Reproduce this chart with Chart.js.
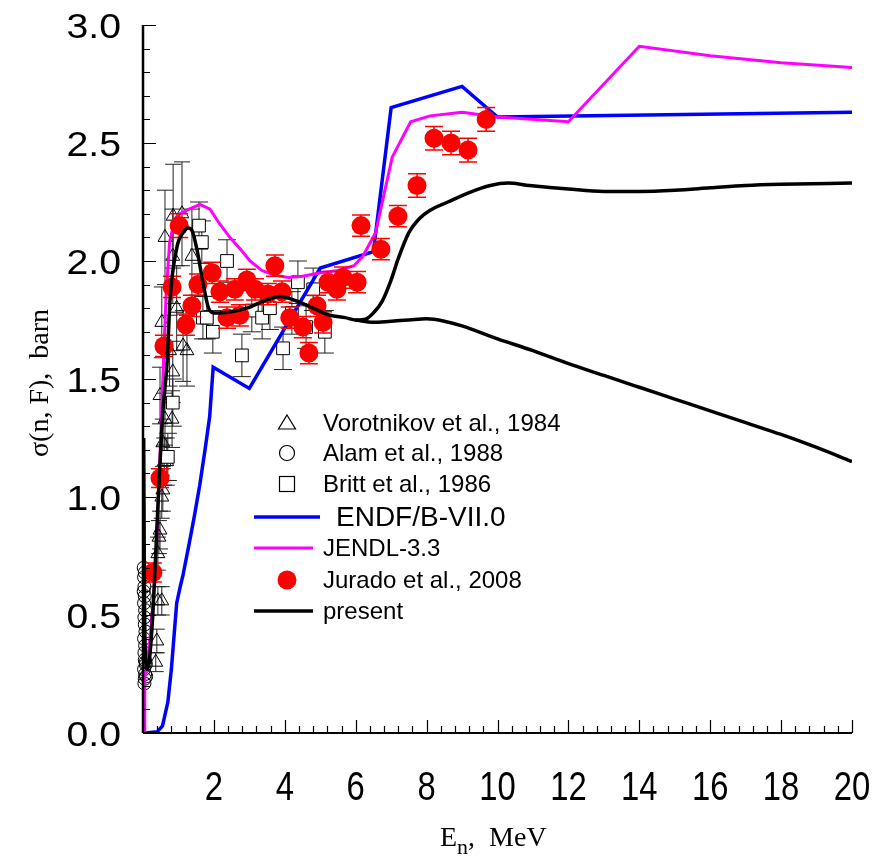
<!DOCTYPE html>
<html><head><meta charset="utf-8">
<script src="https://cdn.jsdelivr.net/npm/chart.js@4.4.0/dist/chart.umd.min.js"></script>
<style>html,body{margin:0;padding:0;background:#fff;}#wrap{width:890px;height:862px;}</style>
</head><body><div id="wrap"><canvas id="c" width="890" height="862"></canvas></div>
<script>
// ---- tick labels ----
const xTickValues = [2,4,6,8,10,12,14,16,18,20];
const xTickLabels = ['2','4','6','8','10','12','14','16','18','20'];
const yTickValues = [0,0.5,1,1.5,2,2.5,3];
const yTickLabels = ['0.0','0.5','1.0','1.5','2.0','2.5','3.0'];

// ---- ENDF/B-VII.0 ----
const endfE = [0.06,0.40,0.55,0.70,0.80,0.88,0.95,1.05,1.13,1.30,1.45,1.60,1.75,1.88,1.98,3.00,5.00,6.50,7.00,9.00,10.0,20.0];
const endfS = [0.00,0.005,0.03,0.13,0.27,0.42,0.55,0.62,0.67,0.80,0.92,1.05,1.20,1.34,1.55,1.46,1.97,2.04,2.65,2.74,2.61,2.63];

// ---- JENDL-3.3 ----
const jendlE = [0.05,0.05,0.10,0.20,0.34,0.45,0.56,0.65,0.75,0.90,1.04,1.30,1.61,1.89,2.15,2.45,2.75,3.02,3.35,3.70,4.10,4.50,5.00,5.50,5.95,6.20,6.56,7.03,7.55,8.10,9.00,10.0,12.0,14.0,16.0,18.0,20.0];
const jendlS = [0.00,0.24,0.27,0.40,0.65,1.05,1.50,1.85,2.08,2.18,2.20,2.22,2.24,2.22,2.16,2.10,2.05,2.00,1.96,1.94,1.93,1.935,1.95,1.96,1.98,2.02,2.12,2.44,2.59,2.615,2.63,2.61,2.59,2.91,2.87,2.84,2.82];

// ---- present (total) ----
const presentE = [0.02,0.04,0.07,0.12,0.18,0.28,0.42,0.56,0.68,0.76,0.96,1.13,1.27,1.38,1.52,1.69,1.85,2.00,2.20,2.93,3.40,3.86,4.34,4.80,5.27,5.70,6.00,6.30,6.50,6.75,7.00,7.20,7.50,7.80,8.10,8.60,9.20,9.80,10.3,10.9,12.0,13.0,14.0,15.0,16.0,17.0,18.0,20.0];
const presentS = [1.25,0.60,0.32,0.27,0.31,0.51,0.96,1.36,1.57,1.83,2.06,2.12,2.14,2.13,2.05,1.91,1.80,1.78,1.78,1.80,1.83,1.85,1.83,1.80,1.77,1.76,1.75,1.755,1.78,1.83,1.92,2.01,2.12,2.18,2.215,2.25,2.29,2.32,2.33,2.32,2.305,2.295,2.295,2.30,2.31,2.32,2.325,2.33];
// ---- present (lower branch) ----
const presentLowE = [6.00,6.50,7.00,7.50,8.00,8.50,9.00,10.0,11.0,12.0,13.0,14.0,15.0,16.0,17.0,18.0,19.0,20.0];
const presentLowS = [1.75,1.74,1.745,1.75,1.755,1.745,1.725,1.67,1.62,1.565,1.515,1.465,1.415,1.365,1.315,1.265,1.21,1.15];

// ---- Jurado et al., 2008 ----
const juradoE = [0.28,0.48,0.59,0.82,1.02,1.21,1.38,1.55,1.95,2.17,2.37,2.59,2.73,2.93,3.16,3.52,3.72,3.92,4.14,4.51,4.68,4.91,5.08,5.22,5.47,5.64,6.04,6.15,6.71,7.19,7.73,8.21,8.69,9.17,9.68];
const juradoS = [0.68,1.08,1.64,1.89,2.15,1.73,1.81,1.90,1.95,1.87,1.76,1.88,1.77,1.92,1.88,1.86,1.98,1.87,1.76,1.72,1.61,1.81,1.74,1.91,1.88,1.93,1.91,2.15,2.05,2.19,2.32,2.52,2.50,2.47,2.60];
const juradoErr = [0.04,0.04,0.045,0.045,0.05,0.045,0.045,0.045,0.045,0.045,0.045,0.045,0.045,0.045,0.045,0.045,0.045,0.045,0.045,0.045,0.045,0.045,0.045,0.045,0.045,0.045,0.045,0.045,0.045,0.045,0.05,0.05,0.05,0.05,0.05];

// ---- Vorotnikov et al., 1984 ----
const vorE = [0.36,0.39,0.42,0.42,0.45,0.48,0.53,0.53,0.56,0.56,0.60,0.62,0.48,0.67,0.84,0.53,0.82,0.75,0.95,0.84,0.85,0.62,1.10,1.13,1.24,1.38];
const vorS = [0.30,0.39,0.56,0.76,0.83,0.86,0.56,1.00,1.03,1.23,1.15,1.33,1.43,1.15,1.53,1.74,1.33,1.62,1.80,2.02,2.19,2.10,2.20,1.64,1.62,2.02];
const vorErr = [0.04,0.05,0.06,0.07,0.07,0.08,0.06,0.09,0.09,0.10,0.10,0.11,0.12,0.10,0.13,0.15,0.12,0.15,0.18,0.20,0.22,0.20,0.22,0.15,0.15,0.20];

// ---- Alam et al., 1988 ----
const alamE = [0.02,0.03,0.04,0.05,0.03,0.06,0.04,0.05,0.07,0.03,0.06,0.04,0.05,0.08,0.03,0.06,0.05,0.04,0.07,0.09,0.02,0.05];
const alamS = [0.70,0.66,0.62,0.58,0.55,0.52,0.49,0.46,0.43,0.40,0.37,0.34,0.31,0.29,0.27,0.25,0.23,0.21,0.30,0.24,0.60,0.68];

// ---- Britt et al., 1986 ----
const brittE = [0.70,0.84,1.58,1.66,1.69,1.80,1.97,2.37,2.79,3.07,3.36,3.58,3.95,4.20,4.37,4.60,4.80,5.13];
const brittS = [1.17,1.40,2.15,2.08,1.76,1.76,1.70,2.00,1.60,1.79,1.76,1.80,1.63,1.78,1.91,1.72,1.88,1.70];
const brittErr = [0.10,0.10,0.10,0.09,0.09,0.09,0.09,0.09,0.09,0.09,0.09,0.09,0.09,0.09,0.09,0.09,0.09,0.09];

function pts(xs, ys){ return xs.map((x,i)=>({x:x, y:ys[i]})); }

const decor = {
  id: 'decor',
  beforeDatasetDraw(chart, args){
    const ds = chart.data.datasets[args.index];
    if (!ds.errs) return;
    const ctx = chart.ctx, xs = chart.scales.x, ys = chart.scales.y;
    ctx.save();
    ctx.strokeStyle = ds.errColor; ctx.lineWidth = ds.errWidth;
    ds.data.forEach((p,i)=>{
      const e = ds.errs[i]; if (!e) return;
      const px = xs.getPixelForValue(p.x);
      const y1 = ys.getPixelForValue(p.y+e), y2 = ys.getPixelForValue(p.y-e);
      ctx.beginPath();
      ctx.moveTo(px,y1); ctx.lineTo(px,y2);
      ctx.moveTo(px-ds.capHalf,y1); ctx.lineTo(px+ds.capHalf,y1);
      ctx.moveTo(px-ds.capHalf,y2); ctx.lineTo(px+ds.capHalf,y2);
      ctx.stroke();
    });
    ctx.restore();
  },
  afterDraw(chart){
    const ctx = chart.ctx, xs = chart.scales.x, ys = chart.scales.y, a = chart.chartArea;
    ctx.save();
    // axis lines
    ctx.strokeStyle = '#000'; ctx.lineWidth = 2.5;
    ctx.beginPath(); ctx.moveTo(a.left, a.top); ctx.lineTo(a.left, a.bottom); ctx.stroke();
    ctx.lineWidth = 2;
    ctx.beginPath(); ctx.moveTo(a.left, a.bottom); ctx.lineTo(a.right, a.bottom); ctx.stroke();
    // ticks
    ctx.lineWidth = 1.2;
    ctx.beginPath();
    for (let k=1; k<=30; k++){
      const v = k/10, py = Math.round(ys.getPixelForValue(v))+0.5;
      const len = (k%5===0) ? 13 : 7;
      ctx.moveTo(a.left, py); ctx.lineTo(a.left+len, py);
    }
    for (let k=1; k<=50; k++){
      const v = k*0.4, px = Math.round(xs.getPixelForValue(v))+0.5;
      const len = (k%5===0) ? 13 : 7;
      ctx.moveTo(px, a.bottom); ctx.lineTo(px, a.bottom-len);
    }
    ctx.stroke();
    // tick labels
    ctx.fillStyle = '#000';
    ctx.font = "40px 'Liberation Sans', Arial, sans-serif";
    ctx.textAlign = 'center'; ctx.textBaseline = 'alphabetic';
    xTickValues.forEach((v,i)=>{
      const px = xs.getPixelForValue(v);
      ctx.save(); ctx.translate(px, 800); ctx.scale(0.82,1);
      ctx.fillText(xTickLabels[i], 0, 0); ctx.restore();
    });
    ctx.font = "35px 'Liberation Sans', Arial, sans-serif";
    ctx.textAlign = 'right';
    yTickValues.forEach((v,i)=>{
      const py = ys.getPixelForValue(v);
      ctx.save(); ctx.translate(121, py+12.5); ctx.scale(1.12,1);
      ctx.fillText(yTickLabels[i], 0, 0); ctx.restore();
    });
    // axis titles
    ctx.font = "28px 'Liberation Serif', 'Times New Roman', serif";
    ctx.textAlign = 'left';
    ctx.fillText('E', 440, 846);
    const wE = ctx.measureText('E').width;
    ctx.font = "22px 'Liberation Serif', 'Times New Roman', serif";
    ctx.fillText('n', 440+wE, 854);
    const wn = ctx.measureText('n').width;
    ctx.font = "28px 'Liberation Serif', 'Times New Roman', serif";
    ctx.fillText(',  MeV', 440+wE+wn, 846);
    ctx.save(); ctx.translate(48, 383); ctx.rotate(-Math.PI/2);
    ctx.textAlign = 'center'; ctx.textBaseline = 'alphabetic';
    ctx.font = "28px 'Liberation Serif', 'Times New Roman', serif";
    ctx.fillText('\u03c3(n, F),  barn', 0, 0);
    ctx.restore();
    // legend
    const dsets = chart.data.datasets;
    const entries = [
      {i:2, kind:'tri', y:423},
      {i:0, kind:'circ', y:453},
      {i:3, kind:'sq', y:484},
      {i:4, kind:'line', y:517, x2:320, font:28, tx:336},
      {i:5, kind:'line', y:548, x2:313},
      {i:6, kind:'dot', y:580},
      {i:7, kind:'line', y:611, x2:313}
    ];
    const sx = 287;
    entries.forEach(en=>{
      const ds = dsets[en.i];
      ctx.save();
      if (en.kind==='tri'){
        ctx.strokeStyle='#000'; ctx.lineWidth=1.2; ctx.beginPath();
        ctx.moveTo(sx, en.y-8); ctx.lineTo(sx+8.5, en.y+6); ctx.lineTo(sx-8.5, en.y+6); ctx.closePath(); ctx.stroke();
      } else if (en.kind==='circ'){
        ctx.strokeStyle='#000'; ctx.lineWidth=1.2; ctx.beginPath(); ctx.arc(sx, en.y, 7.5, 0, Math.PI*2); ctx.stroke();
      } else if (en.kind==='sq'){
        ctx.strokeStyle='#000'; ctx.lineWidth=1.2; ctx.strokeRect(sx-7.5, en.y-7.5, 15, 15);
      } else if (en.kind==='dot'){
        ctx.fillStyle=ds.backgroundColor; ctx.beginPath(); ctx.arc(sx, en.y, 9.5, 0, Math.PI*2); ctx.fill();
      } else {
        ctx.strokeStyle=ds.borderColor; ctx.lineWidth=ds.borderWidth; ctx.beginPath();
        ctx.moveTo(254, en.y); ctx.lineTo(en.x2, en.y); ctx.stroke();
      }
      ctx.restore();
      ctx.fillStyle='#000';
      ctx.font = (en.font||24) + "px 'Liberation Sans', Arial, sans-serif";
      ctx.textAlign='left'; ctx.textBaseline='middle';
      ctx.fillText(ds.label, en.tx||323, en.y+1);
    });
    ctx.restore();
  }
};

const zeroFit = (s)=>{ if (s.isHorizontal()) s.height = 0; else s.width = 0; };

new Chart(document.getElementById('c'), {
  type: 'scatter',
  data: { datasets: [
    { label:'Alam et al., 1988', data: pts(alamE, alamS), pointStyle:'circle', pointRadius:6.5,
      backgroundColor:'rgba(0,0,0,0)', borderColor:'#000', borderWidth:1, order:7, clip:false },
    { label:'_low', data: pts(presentLowE, presentLowS), showLine:true, pointRadius:0, borderColor:'#000',
      borderWidth:3.5, cubicInterpolationMode:'monotone', order:0 },
    { label:'Vorotnikov et al., 1984', data: pts(vorE, vorS), pointStyle:'triangle', pointRadius:8,
      backgroundColor:'rgba(0,0,0,0)', borderColor:'#000', borderWidth:1, order:6, clip:false,
      errs: vorErr, errColor:'#222', errWidth:1, capHalf:8 },
    { label:'Britt et al., 1986', data: pts(brittE, brittS), pointStyle:'rect', pointRadius:9,
      backgroundColor:'#fff', borderColor:'#000', borderWidth:1, order:5, clip:false,
      errs: brittErr, errColor:'#222', errWidth:1, capHalf:9 },
    { label:'ENDF/B-VII.0', data: pts(endfE, endfS), showLine:true, pointRadius:0, borderColor:'#0000ff',
      borderWidth:3.5, tension:0, order:4 },
    { label:'JENDL-3.3', data: pts(jendlE, jendlS), showLine:true, pointRadius:0, borderColor:'#ff00ff',
      borderWidth:3, tension:0, order:3 },
    { label:'Jurado et al., 2008', data: pts(juradoE, juradoS), pointStyle:'circle', pointRadius:9.5,
      backgroundColor:'#ff0000', borderColor:'#ff0000', borderWidth:0, order:2, clip:false,
      errs: juradoErr, errColor:'#ff0000', errWidth:1.5, capHalf:9 },
    { label:'present', data: pts(presentE, presentS), showLine:true, pointRadius:0, borderColor:'#000',
      borderWidth:3.5, cubicInterpolationMode:'monotone', order:0 }
  ]},
  options: {
    responsive:false, animation:false, devicePixelRatio:1,
    layout:{ padding:{ left:143, right:38, top:25, bottom:129 } },
    plugins:{ legend:{display:false}, tooltip:{enabled:false} },
    elements:{ point:{ hoverRadius:0 } },
    scales:{
      x:{ type:'linear', min:0, max:20, grid:{display:false}, border:{display:false},
          ticks:{display:false}, afterFit: zeroFit },
      y:{ type:'linear', min:0, max:3, grid:{display:false}, border:{display:false},
          ticks:{display:false}, afterFit: zeroFit }
    }
  },
  plugins:[decor]
});
</script></body></html>
